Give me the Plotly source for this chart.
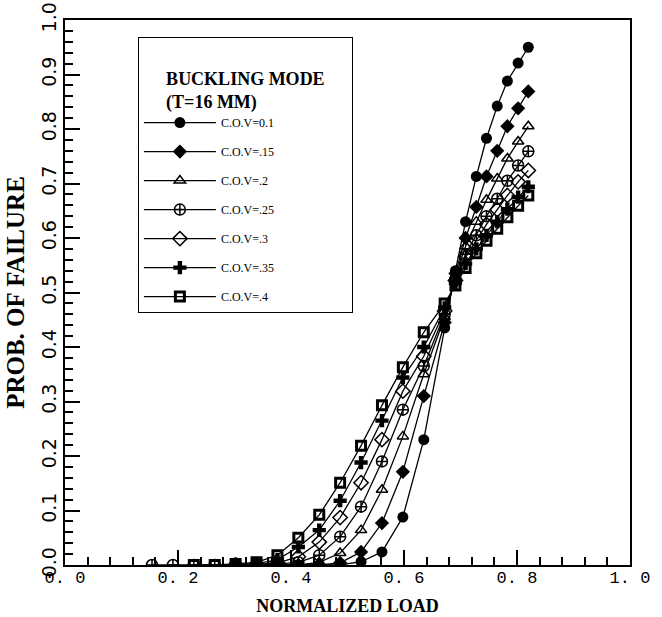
import plotly.graph_objects as go

# ---- data ----
labels = ["C.O.V=0.1", "C.O.V=.15", "C.O.V=.2", "C.O.V=.25", "C.O.V=.3", "C.O.V=.35", "C.O.V=.4"]

x_a = [0.302, 0.339, 0.376, 0.413, 0.450, 0.487, 0.524, 0.561, 0.598, 0.635, 0.672,
       0.691, 0.709, 0.728, 0.746, 0.765, 0.783, 0.802, 0.820]
x_b = [0.154, 0.191, 0.228, 0.265, 0.302, 0.339, 0.376, 0.413, 0.450, 0.487, 0.524, 0.561, 0.598, 0.635, 0.672,
       0.691, 0.709, 0.728, 0.746, 0.765, 0.783, 0.802, 0.820]
x_c = [0.228, 0.265, 0.302, 0.339, 0.376, 0.413, 0.450, 0.487, 0.524, 0.561, 0.598, 0.635, 0.672,
       0.691, 0.709, 0.728, 0.746, 0.765, 0.783, 0.802, 0.820]

y_010 = [0, 0, 0, 0, 0, 0, 0.006, 0.024, 0.088, 0.230, 0.435,
         0.540, 0.630, 0.713, 0.783, 0.842, 0.888, 0.921, 0.950]
y_015 = [0, 0, 0, 0, 0, 0.004, 0.024, 0.077, 0.171, 0.310, 0.445,
         0.535, 0.600, 0.657, 0.713, 0.760, 0.805, 0.838, 0.869]
y_020 = [0, 0, 0, 0, 0.005, 0.022, 0.064, 0.138, 0.236, 0.350, 0.455,
         0.530, 0.585, 0.630, 0.670, 0.709, 0.746, 0.777, 0.805]
y_025 = [0, 0, 0, 0, 0, 0, 0.002, 0.005, 0.018, 0.052, 0.107, 0.190, 0.285, 0.365, 0.460,
         0.525, 0.570, 0.605, 0.640, 0.672, 0.705, 0.733, 0.759]
y_030 = [0, 0.001, 0.004, 0.015, 0.042, 0.087, 0.151, 0.230, 0.319, 0.383, 0.466,
         0.522, 0.565, 0.595, 0.625, 0.652, 0.678, 0.703, 0.724]
y_035 = [0.001, 0.002, 0.010, 0.033, 0.064, 0.118, 0.188, 0.265, 0.344, 0.400, 0.472,
         0.518, 0.553, 0.580, 0.605, 0.630, 0.653, 0.675, 0.694]
y_040 = [0, 0, 0.002, 0.005, 0.018, 0.050, 0.092, 0.151, 0.219, 0.293, 0.363, 0.427, 0.480,
         0.513, 0.545, 0.572, 0.595, 0.617, 0.638, 0.659, 0.678]

xs = [x_a, x_a, x_a, x_b, x_a, x_a, x_c]
ys = [y_010, y_015, y_020, y_025, y_030, y_035, y_040]

x_ticks = [0.0, 0.2, 0.4, 0.6, 0.8, 1.0]
x_ticktext = ["0. 0", "0. 2", "0. 4", "0. 6", "0. 8", "1. 0"]
y_ticks = [0.0, 0.1, 0.2, 0.3, 0.4, 0.5, 0.6, 0.7, 0.8, 0.9, 1.0]
y_ticktext = ["0.0", "0.1", "0.2", "0.3", "0.4", "0.5", "0.6", "0.7", "0.8", "0.9", "1.0"]

# ---- styles ----
symbols = ["circle", "diamond", "triangle-up-open", "circle-cross-open", "diamond-open", "cross", "square-open"]
sizes = [11, 11, 10, 11, 11, 11, 9]
mlw = [0, 0, 1.5, 1.5, 1.5, 0, 3]
PAD = "\u00a0" * 24  # widens the legend box to match the reference

fig = go.Figure()
for i in range(len(labels)):
    fig.add_trace(go.Scatter(
        x=xs[i], y=ys[i], mode="lines+markers", name=labels[i] + PAD,
        legendgroup=labels[i],
        line=dict(color="black", width=1.3),
        marker=dict(symbol=symbols[i], size=sizes[i], color="black",
                    line=dict(color="black", width=mlw[i])),
    ))

fig.update_layout(
    width=662, height=617,
    margin=dict(l=65, r=32, t=20, b=52, autoexpand=False),
    paper_bgcolor="white", plot_bgcolor="white",
    showlegend=True,
    legend=dict(
        x=0.129, y=0.969, xanchor="left", yanchor="top",
        bordercolor="black", borderwidth=1, bgcolor="white",
        font=dict(family="Liberation Serif", size=12, color="black"),
        title=dict(text="<br><b>BUCKLING MODE</b><br><b>(T=16 MM)</b>", side="top center",
                   font=dict(family="Liberation Serif", size=18, color="black")),
        tracegroupgap=10, itemwidth=72,
    ),
)

fig.update_xaxes(
    range=[0, 1], tickvals=x_ticks, ticktext=x_ticktext,
    tickfont=dict(family="Liberation Mono", size=17, color="black"),
    ticks="inside", ticklen=15, tickwidth=1.5, tickcolor="black",
    minor=dict(dtick=0.04, ticks="inside", ticklen=8, tickwidth=1.5, tickcolor="black"),
    showline=True, linecolor="black", linewidth=1.5, mirror=True,
    showgrid=False, zeroline=False, automargin=False, ticklabelstandoff=-4,
    title=dict(text="<b>NORMALIZED LOAD</b>", font=dict(family="Liberation Serif", size=18, color="black"),
               standoff=12),
)
fig.update_yaxes(
    range=[0, 1], tickvals=y_ticks, ticktext=y_ticktext, tickangle=-90,
    tickfont=dict(family="DejaVu Sans", size=19, color="black"),
    ticks="inside", ticklen=15, tickwidth=1.5, tickcolor="black",
    minor=dict(dtick=0.02, ticks="inside", ticklen=8, tickwidth=1.5, tickcolor="black"),
    showline=True, linecolor="black", linewidth=1.5, mirror=True,
    showgrid=False, zeroline=False, automargin=False,
    title=dict(text="<b>PROB. OF FAILURE</b>", font=dict(family="Liberation Serif", size=25, color="black"),
               standoff=6),
)

fig.write_html("out.html")
